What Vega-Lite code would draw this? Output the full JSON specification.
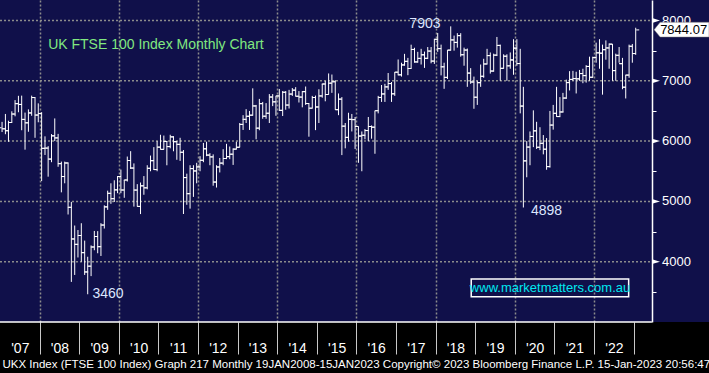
{
"$schema":"https://vega.github.io/schema/vega-lite/v6.json",
"width":709,"height":322,
"autosize":{"type":"none"},
"padding":{"left":0,"top":0,"right":0,"bottom":51},
"background":"#000000",
"view":{"fill":"#10104a","stroke":null},
"config":{"font":"Liberation Sans"},
"datasets":{
"levels":[{"v":4000},{"v":5000},{"v":6000},{"v":7000},{"v":8000}],
"ohlc":[
{"d":"2007-01-20","o":6221,"h":6319,"l":6150,"c":6203},
{"d":"2007-02-20","o":6203,"h":6450,"l":6114,"c":6172},
{"d":"2007-03-20","o":6172,"h":6338,"l":5989,"c":6308},
{"d":"2007-04-20","o":6308,"h":6494,"l":6300,"c":6449},
{"d":"2007-05-20","o":6449,"h":6680,"l":6411,"c":6621},
{"d":"2007-06-20","o":6621,"h":6751,"l":6478,"c":6608},
{"d":"2007-07-20","o":6608,"h":6754,"l":6180,"c":6360},
{"d":"2007-08-20","o":6360,"h":6473,"l":5858,"c":6303},
{"d":"2007-09-20","o":6303,"h":6526,"l":6155,"c":6467},
{"d":"2007-10-20","o":6467,"h":6754,"l":6420,"c":6722},
{"d":"2007-11-20","o":6722,"h":6730,"l":6055,"c":6432},
{"d":"2007-12-20","o":6432,"h":6626,"l":6312,"c":6457},
{"d":"2008-01-20","o":6457,"h":6480,"l":5337,"c":5880},
{"d":"2008-02-20","o":5880,"h":6079,"l":5770,"c":5884},
{"d":"2008-03-20","o":5884,"h":5917,"l":5410,"c":5702},
{"d":"2008-04-20","o":5702,"h":6116,"l":5650,"c":6087},
{"d":"2008-05-20","o":6087,"h":6376,"l":6000,"c":6053},
{"d":"2008-06-20","o":6053,"h":6120,"l":5574,"c":5626},
{"d":"2008-07-20","o":5626,"h":5660,"l":5150,"c":5412},
{"d":"2008-08-20","o":5412,"h":5660,"l":5300,"c":5637},
{"d":"2008-09-20","o":5637,"h":5646,"l":4783,"c":4902},
{"d":"2008-10-20","o":4902,"h":4992,"l":3665,"c":4377},
{"d":"2008-11-20","o":4377,"h":4600,"l":3780,"c":4288},
{"d":"2008-12-20","o":4288,"h":4525,"l":4070,"c":4434},
{"d":"2009-01-20","o":4434,"h":4638,"l":4000,"c":4150},
{"d":"2009-02-20","o":4150,"h":4350,"l":3780,"c":3830},
{"d":"2009-03-20","o":3830,"h":4082,"l":3460,"c":3926},
{"d":"2009-04-20","o":3926,"h":4270,"l":3761,"c":4244},
{"d":"2009-05-20","o":4244,"h":4510,"l":4190,"c":4418},
{"d":"2009-06-20","o":4418,"h":4507,"l":4140,"c":4249},
{"d":"2009-07-20","o":4249,"h":4639,"l":4095,"c":4608},
{"d":"2009-08-20","o":4608,"h":4935,"l":4550,"c":4909},
{"d":"2009-09-20","o":4909,"h":5178,"l":4860,"c":5134},
{"d":"2009-10-20","o":5134,"h":5300,"l":4960,"c":5045},
{"d":"2009-11-20","o":5045,"h":5350,"l":4990,"c":5191},
{"d":"2009-12-20","o":5191,"h":5420,"l":5136,"c":5413},
{"d":"2010-01-20","o":5413,"h":5528,"l":5136,"c":5189},
{"d":"2010-02-20","o":5189,"h":5355,"l":5060,"c":5355},
{"d":"2010-03-20","o":5355,"h":5744,"l":5330,"c":5680},
{"d":"2010-04-20","o":5680,"h":5833,"l":5538,"c":5553},
{"d":"2010-05-20","o":5553,"h":5630,"l":4914,"c":5188},
{"d":"2010-06-20","o":5188,"h":5286,"l":4914,"c":4917},
{"d":"2010-07-20","o":4917,"h":5313,"l":4790,"c":5258},
{"d":"2010-08-20","o":5258,"h":5420,"l":5110,"c":5225},
{"d":"2010-09-20","o":5225,"h":5600,"l":5200,"c":5549},
{"d":"2010-10-20","o":5549,"h":5760,"l":5500,"c":5675},
{"d":"2010-11-20","o":5675,"h":5900,"l":5520,"c":5528},
{"d":"2010-12-20","o":5528,"h":6000,"l":5500,"c":5900},
{"d":"2011-01-20","o":5900,"h":6105,"l":5860,"c":5863},
{"d":"2011-02-20","o":5863,"h":6092,"l":5860,"c":5994},
{"d":"2011-03-20","o":5994,"h":6000,"l":5599,"c":5909},
{"d":"2011-04-20","o":5909,"h":6105,"l":5880,"c":6070},
{"d":"2011-05-20","o":6070,"h":6082,"l":5831,"c":5990},
{"d":"2011-06-20","o":5990,"h":6000,"l":5690,"c":5946},
{"d":"2011-07-20","o":5946,"h":6055,"l":5672,"c":5815},
{"d":"2011-08-20","o":5815,"h":5852,"l":4791,"c":5395},
{"d":"2011-09-20","o":5395,"h":5460,"l":4944,"c":5128},
{"d":"2011-10-20","o":5128,"h":5600,"l":4880,"c":5544},
{"d":"2011-11-20","o":5544,"h":5600,"l":5075,"c":5505},
{"d":"2011-12-20","o":5505,"h":5640,"l":5300,"c":5572},
{"d":"2012-01-20","o":5572,"h":5750,"l":5500,"c":5682},
{"d":"2012-02-20","o":5682,"h":5970,"l":5650,"c":5872},
{"d":"2012-03-20","o":5872,"h":5990,"l":5750,"c":5768},
{"d":"2012-04-20","o":5768,"h":5800,"l":5600,"c":5738},
{"d":"2012-05-20","o":5738,"h":5780,"l":5260,"c":5321},
{"d":"2012-06-20","o":5321,"h":5600,"l":5230,"c":5571},
{"d":"2012-07-20","o":5571,"h":5720,"l":5480,"c":5635},
{"d":"2012-08-20","o":5635,"h":5866,"l":5600,"c":5711},
{"d":"2012-09-20","o":5711,"h":5955,"l":5700,"c":5742},
{"d":"2012-10-20","o":5742,"h":5910,"l":5700,"c":5783},
{"d":"2012-11-20","o":5783,"h":5880,"l":5605,"c":5867},
{"d":"2012-12-20","o":5867,"h":5990,"l":5860,"c":5898},
{"d":"2013-01-20","o":5898,"h":6300,"l":5897,"c":6277},
{"d":"2013-02-20","o":6277,"h":6430,"l":6185,"c":6361},
{"d":"2013-03-20","o":6361,"h":6530,"l":6300,"c":6412},
{"d":"2013-04-20","o":6412,"h":6500,"l":6185,"c":6430},
{"d":"2013-05-20","o":6430,"h":6875,"l":6420,"c":6583},
{"d":"2013-06-20","o":6583,"h":6600,"l":6030,"c":6215},
{"d":"2013-07-20","o":6215,"h":6700,"l":6180,"c":6621},
{"d":"2013-08-20","o":6621,"h":6650,"l":6370,"c":6413},
{"d":"2013-09-20","o":6413,"h":6630,"l":6370,"c":6462},
{"d":"2013-10-20","o":6462,"h":6780,"l":6300,"c":6731},
{"d":"2013-11-20","o":6731,"h":6780,"l":6580,"c":6651},
{"d":"2013-12-20","o":6651,"h":6750,"l":6420,"c":6749},
{"d":"2014-01-20","o":6749,"h":6865,"l":6500,"c":6510},
{"d":"2014-02-20","o":6510,"h":6830,"l":6416,"c":6810},
{"d":"2014-03-20","o":6810,"h":6830,"l":6520,"c":6598},
{"d":"2014-04-20","o":6598,"h":6850,"l":6540,"c":6780},
{"d":"2014-05-20","o":6780,"h":6880,"l":6750,"c":6845},
{"d":"2014-06-20","o":6845,"h":6895,"l":6740,"c":6744},
{"d":"2014-07-20","o":6744,"h":6830,"l":6640,"c":6730},
{"d":"2014-08-20","o":6730,"h":6830,"l":6560,"c":6820},
{"d":"2014-09-20","o":6820,"h":6905,"l":6600,"c":6623},
{"d":"2014-10-20","o":6623,"h":6630,"l":6073,"c":6546},
{"d":"2014-11-20","o":6546,"h":6750,"l":6540,"c":6723},
{"d":"2014-12-20","o":6723,"h":6755,"l":6182,"c":6566},
{"d":"2015-01-20","o":6566,"h":6860,"l":6300,"c":6749},
{"d":"2015-02-20","o":6749,"h":6950,"l":6720,"c":6947},
{"d":"2015-03-20","o":6947,"h":7000,"l":6660,"c":6773},
{"d":"2015-04-20","o":6773,"h":7122,"l":6770,"c":6961},
{"d":"2015-05-20","o":6961,"h":7104,"l":6800,"c":6984},
{"d":"2015-06-20","o":6984,"h":7010,"l":6520,"c":6521},
{"d":"2015-07-20","o":6521,"h":6790,"l":6430,"c":6696},
{"d":"2015-08-20","o":6696,"h":6730,"l":5768,"c":6248},
{"d":"2015-09-20","o":6248,"h":6300,"l":5880,"c":6062},
{"d":"2015-10-20","o":6062,"h":6470,"l":5990,"c":6361},
{"d":"2015-11-20","o":6361,"h":6450,"l":6160,"c":6356},
{"d":"2015-12-20","o":6356,"h":6400,"l":5870,"c":6242},
{"d":"2016-01-20","o":6242,"h":6242,"l":5640,"c":6084},
{"d":"2016-02-20","o":6084,"h":6160,"l":5500,"c":6097},
{"d":"2016-03-20","o":6097,"h":6200,"l":6030,"c":6175},
{"d":"2016-04-20","o":6175,"h":6400,"l":6000,"c":6242},
{"d":"2016-05-20","o":6242,"h":6260,"l":6040,"c":6231},
{"d":"2016-06-20","o":6231,"h":6500,"l":5790,"c":6504},
{"d":"2016-07-20","o":6504,"h":6750,"l":6460,"c":6724},
{"d":"2016-08-20","o":6724,"h":6930,"l":6650,"c":6782},
{"d":"2016-09-20","o":6782,"h":6950,"l":6650,"c":6899},
{"d":"2016-10-20","o":6899,"h":7129,"l":6850,"c":6954},
{"d":"2016-11-20","o":6954,"h":6980,"l":6650,"c":6784},
{"d":"2016-12-20","o":6784,"h":7145,"l":6750,"c":7143},
{"d":"2017-01-20","o":7143,"h":7354,"l":7090,"c":7099},
{"d":"2017-02-20","o":7099,"h":7300,"l":7070,"c":7263},
{"d":"2017-03-20","o":7263,"h":7447,"l":7250,"c":7323},
{"d":"2017-04-20","o":7323,"h":7380,"l":7093,"c":7204},
{"d":"2017-05-20","o":7204,"h":7599,"l":7200,"c":7520},
{"d":"2017-06-20","o":7520,"h":7548,"l":7300,"c":7313},
{"d":"2017-07-20","o":7313,"h":7480,"l":7300,"c":7372},
{"d":"2017-08-20","o":7372,"h":7530,"l":7270,"c":7431},
{"d":"2017-09-20","o":7431,"h":7485,"l":7214,"c":7373},
{"d":"2017-10-20","o":7373,"h":7560,"l":7360,"c":7493},
{"d":"2017-11-20","o":7493,"h":7560,"l":7290,"c":7327},
{"d":"2017-12-20","o":7327,"h":7697,"l":7280,"c":7688},
{"d":"2018-01-20","o":7688,"h":7792,"l":7480,"c":7534},
{"d":"2018-02-20","o":7534,"h":7600,"l":7090,"c":7232},
{"d":"2018-03-20","o":7232,"h":7300,"l":6867,"c":7057},
{"d":"2018-04-20","o":7057,"h":7510,"l":7030,"c":7509},
{"d":"2018-05-20","o":7509,"h":7903,"l":7500,"c":7678},
{"d":"2018-06-20","o":7678,"h":7750,"l":7500,"c":7637},
{"d":"2018-07-20","o":7637,"h":7790,"l":7550,"c":7749},
{"d":"2018-08-20","o":7749,"h":7790,"l":7400,"c":7432},
{"d":"2018-09-20","o":7432,"h":7550,"l":7250,"c":7510},
{"d":"2018-10-20","o":7510,"h":7535,"l":6900,"c":7128},
{"d":"2018-11-20","o":7128,"h":7210,"l":6950,"c":6980},
{"d":"2018-12-20","o":6980,"h":7070,"l":6536,"c":6728},
{"d":"2019-01-20","o":6728,"h":7000,"l":6600,"c":6969},
{"d":"2019-02-20","o":6969,"h":7270,"l":6900,"c":7075},
{"d":"2019-03-20","o":7075,"h":7365,"l":7050,"c":7279},
{"d":"2019-04-20","o":7279,"h":7530,"l":7270,"c":7418},
{"d":"2019-05-20","o":7418,"h":7470,"l":7120,"c":7162},
{"d":"2019-06-20","o":7162,"h":7450,"l":7150,"c":7426},
{"d":"2019-07-20","o":7426,"h":7727,"l":7410,"c":7587},
{"d":"2019-08-20","o":7587,"h":7600,"l":7000,"c":7207},
{"d":"2019-09-20","o":7207,"h":7440,"l":7200,"c":7408},
{"d":"2019-10-20","o":7408,"h":7440,"l":7000,"c":7248},
{"d":"2019-11-20","o":7248,"h":7470,"l":7200,"c":7347},
{"d":"2019-12-20","o":7347,"h":7690,"l":7100,"c":7542},
{"d":"2020-01-20","o":7542,"h":7690,"l":7250,"c":7286},
{"d":"2020-02-20","o":7286,"h":7530,"l":6460,"c":6581},
{"d":"2020-03-20","o":6581,"h":6900,"l":4899,"c":5672},
{"d":"2020-04-20","o":5672,"h":6000,"l":5400,"c":5901},
{"d":"2020-05-20","o":5901,"h":6160,"l":5600,"c":6077},
{"d":"2020-06-20","o":6077,"h":6510,"l":5900,"c":6170},
{"d":"2020-07-20","o":6170,"h":6320,"l":5870,"c":5898},
{"d":"2020-08-20","o":5898,"h":6230,"l":5850,"c":5964},
{"d":"2020-09-20","o":5964,"h":6100,"l":5780,"c":5866},
{"d":"2020-10-20","o":5866,"h":6050,"l":5525,"c":5577},
{"d":"2020-11-20","o":5577,"h":6500,"l":5560,"c":6266},
{"d":"2020-12-20","o":6266,"h":6600,"l":6190,"c":6461},
{"d":"2021-01-20","o":6461,"h":6900,"l":6400,"c":6407},
{"d":"2021-02-20","o":6407,"h":6730,"l":6397,"c":6483},
{"d":"2021-03-20","o":6483,"h":6800,"l":6475,"c":6714},
{"d":"2021-04-20","o":6714,"h":7020,"l":6700,"c":6970},
{"d":"2021-05-20","o":6970,"h":7160,"l":6840,"c":7023},
{"d":"2021-06-20","o":7023,"h":7165,"l":7000,"c":7037},
{"d":"2021-07-20","o":7037,"h":7150,"l":6790,"c":7032},
{"d":"2021-08-20","o":7032,"h":7180,"l":7000,"c":7120},
{"d":"2021-09-20","o":7120,"h":7200,"l":6960,"c":7086},
{"d":"2021-10-20","o":7086,"h":7260,"l":6970,"c":7238},
{"d":"2021-11-20","o":7238,"h":7400,"l":7000,"c":7059},
{"d":"2021-12-20","o":7059,"h":7400,"l":7050,"c":7385},
{"d":"2022-01-20","o":7385,"h":7633,"l":7300,"c":7464},
{"d":"2022-02-20","o":7464,"h":7690,"l":7200,"c":7458},
{"d":"2022-03-20","o":7458,"h":7600,"l":6770,"c":7516},
{"d":"2022-04-20","o":7516,"h":7670,"l":7350,"c":7545},
{"d":"2022-05-20","o":7545,"h":7620,"l":7200,"c":7608},
{"d":"2022-06-20","o":7608,"h":7610,"l":7000,"c":7169},
{"d":"2022-07-20","o":7169,"h":7450,"l":7000,"c":7423},
{"d":"2022-08-20","o":7423,"h":7560,"l":7300,"c":7284},
{"d":"2022-09-20","o":7284,"h":7380,"l":6860,"c":6894},
{"d":"2022-10-20","o":6894,"h":7100,"l":6707,"c":7095},
{"d":"2022-11-20","o":7095,"h":7600,"l":7050,"c":7573},
{"d":"2022-12-20","o":7573,"h":7611,"l":7300,"c":7452},
{"d":"2023-01-20","o":7452,"h":7880,"l":7430,"c":7844}
]},
"layer":[
{"data":{"name":"levels"},
 "mark":{"type":"rule","color":"#8c8c8c","strokeWidth":1.5,"strokeDash":[2,2]},
 "encoding":{
  "x":{"datum":{"year":2007,"month":1,"date":1},"type":"temporal",
   "scale":{"type":"time","domain":[{"year":2007,"month":1,"date":1},{"year":2024,"month":11,"date":26}],"nice":false},
   "axis":{
    "values":[{"year":2007,"month":1,"date":1},{"year":2008,"month":1,"date":1},{"year":2009,"month":1,"date":1},{"year":2010,"month":1,"date":1},{"year":2011,"month":1,"date":1},{"year":2012,"month":1,"date":1},{"year":2013,"month":1,"date":1},{"year":2014,"month":1,"date":1},{"year":2015,"month":1,"date":1},{"year":2016,"month":1,"date":1},{"year":2017,"month":1,"date":1},{"year":2018,"month":1,"date":1},{"year":2019,"month":1,"date":1},{"year":2020,"month":1,"date":1},{"year":2021,"month":1,"date":1},{"year":2022,"month":1,"date":1},{"year":2023,"month":1,"date":1}],
    "format":"'%y",
    "labelExpr":"year(datum.value) >= 2023 ? '' : datum.label",
    "labelOffset":19.8,"labelAlign":"center","labelBaseline":"middle","labelPadding":-6,
    "labelColor":"#ffffff","labelFontSize":14,"labelFlush":false,"labelOverlap":false,
    "tickSize":32,"tickColor":"#c8c8c8","tickWidth":1,
    "tickOpacity":{"condition":{"test":"year(datum.value) == 2007","value":0},"value":1},
    "domain":false,
    "grid":true,"gridColor":"#8c8c8c","gridDash":[2,2],"gridWidth":1.5,
    "gridOpacity":{"condition":{"test":"year(datum.value) % 2 == 0","value":1},"value":0},
    "title":"UKX Index (FTSE 100 Index) Graph 217  Monthly 19JAN2008-15JAN2023 Copyright© 2023 Bloomberg Finance L.P.  15-Jan-2023 20:56:47",
    "titleColor":"#ffffff","titleFontSize":11.5,"titleFontWeight":"normal","titleAlign":"left","titleAnchor":"start","titleBaseline":"middle","titleX":2,"titleY":42
   }},
  "x2":{"datum":{"year":2023,"month":6,"date":18}},
  "y":{"field":"v","type":"quantitative",
   "scale":{"domain":[3000,8340],"nice":false,"zero":false},
   "axis":{
    "orient":"right","offset":-57,
    "values":[3500,4500,5500,6500,7500],
    "labels":false,
    "tickSize":4,"tickColor":"#ffffff","tickWidth":1,
    "domainColor":"#ffffff","domainWidth":1.5,
    "grid":false,"title":null
   }}
 }},
{"data":{"values":[{}]},
 "mark":{"type":"rule","color":"#ffffff","strokeWidth":1.5},
 "encoding":{"x":{"datum":{"year":2007,"month":1,"date":1},"type":"temporal"},"x2":{"datum":{"year":2023,"month":6,"date":18}},"y":{"datum":3000,"type":"quantitative"}}},
{"data":{"name":"ohlc"},
 "mark":{"type":"rule","color":"#ffffff","strokeWidth":1},
 "encoding":{"x":{"field":"d","type":"temporal"},"y":{"field":"h","type":"quantitative"},"y2":{"field":"l"}}},
{"data":{"name":"ohlc"},
 "mark":{"type":"tick","orient":"horizontal","color":"#ffffff","size":3,"thickness":1,"xOffset":-2,"opacity":1},
 "encoding":{"x":{"field":"d","type":"temporal"},"y":{"field":"o","type":"quantitative"}}},
{"data":{"name":"ohlc"},
 "mark":{"type":"tick","orient":"horizontal","color":"#ffffff","size":3,"thickness":1,"xOffset":2,"opacity":1},
 "encoding":{"x":{"field":"d","type":"temporal"},"y":{"field":"c","type":"quantitative"}}},
{"data":{"name":"levels"},
 "mark":{"type":"point","shape":"M-1,-0.6L1,0L-1,0.6Z","size":64,"filled":true,"color":"#ffffff","opacity":1,"strokeWidth":0},
 "encoding":{"x":{"datum":{"year":2023,"month":7,"date":26},"type":"temporal"},"y":{"field":"v","type":"quantitative"}}},
{"data":{"name":"levels"},
 "mark":{"type":"text","color":"#ffffff","fontSize":13,"align":"left","baseline":"middle"},
 "encoding":{"x":{"datum":{"year":2023,"month":9,"date":19},"type":"temporal"},"y":{"field":"v","type":"quantitative"},"text":{"field":"v","type":"quantitative","format":"d"}}},
{"data":{"values":[{}]},
 "mark":{"type":"text","text":"UK FTSE 100 Index Monthly Chart","color":"#80e880","fontSize":14,"align":"left","baseline":"middle"},
 "encoding":{"x":{"datum":{"year":2008,"month":3,"date":20},"type":"temporal"},"y":{"datum":7594,"type":"quantitative"}}},
{"data":{"values":[{}]},
 "mark":{"type":"text","text":"7903","color":"#dde6ff","fontSize":14,"align":"center","baseline":"middle"},
 "encoding":{"x":{"datum":{"year":2017,"month":9,"date":24},"type":"temporal"},"y":{"datum":7942,"type":"quantitative"}}},
{"data":{"values":[{}]},
 "mark":{"type":"text","text":"3460","color":"#dde6ff","fontSize":14,"align":"center","baseline":"middle"},
 "encoding":{"x":{"datum":{"year":2009,"month":9,"date":23},"type":"temporal"},"y":{"datum":3472,"type":"quantitative"}}},
{"data":{"values":[{}]},
 "mark":{"type":"text","text":"4898","color":"#dde6ff","fontSize":14,"align":"center","baseline":"middle"},
 "encoding":{"x":{"datum":{"year":2020,"month":10,"date":19},"type":"temporal"},"y":{"datum":4846,"type":"quantitative"}}},
{"data":{"values":[{}]},
 "mark":{"type":"rect","fillOpacity":0,"stroke":"#ffffff","strokeWidth":1.5},
 "encoding":{"x":{"datum":{"year":2018,"month":11,"date":25},"type":"temporal"},"x2":{"datum":{"year":2022,"month":11,"date":16}},"y":{"datum":3715,"type":"quantitative"},"y2":{"datum":3417}}},
{"data":{"values":[{}]},
 "mark":{"type":"text","text":"www.marketmatters.com.au","color":"#00e8f0","fontSize":13,"align":"center","baseline":"middle"},
 "encoding":{"x":{"datum":{"year":2020,"month":11,"date":21},"type":"temporal"},"y":{"datum":3566,"type":"quantitative"}}},
{"data":{"values":[{}]},
 "mark":{"type":"point","shape":"M-1,0L-0.78,-0.27L1,-0.27L1,0.27L-0.78,0.27Z","size":3025,"filled":true,"fill":"#ffffff","stroke":"#707070","strokeWidth":0.5,"opacity":1},
 "encoding":{"x":{"datum":{"year":2024,"month":3,"date":18},"type":"temporal"},"y":{"datum":7848,"type":"quantitative"}}},
{"data":{"values":[{}]},
 "mark":{"type":"text","text":"7844.07","color":"#000000","fontSize":13,"align":"center","baseline":"middle"},
 "encoding":{"x":{"datum":{"year":2024,"month":4,"date":6},"type":"temporal"},"y":{"datum":7848,"type":"quantitative"}}}
]
}
